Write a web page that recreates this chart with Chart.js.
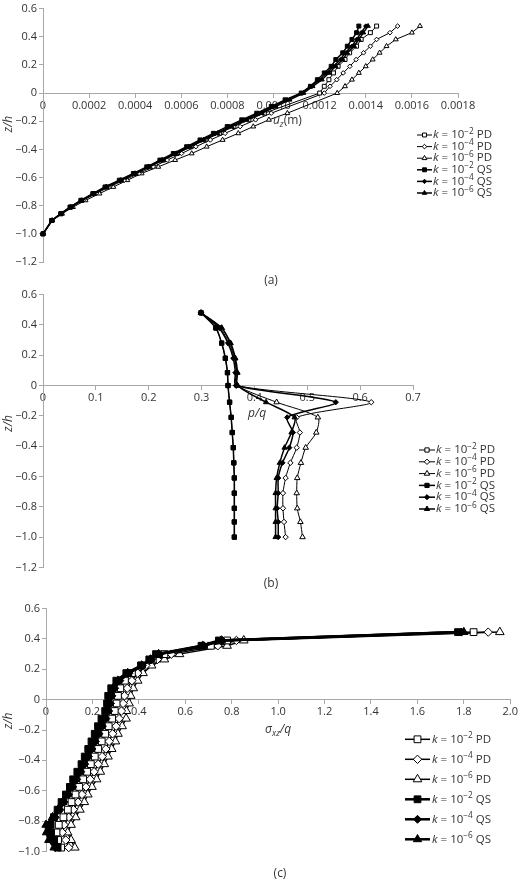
<!DOCTYPE html>
<html>
<head>
<meta charset="utf-8">
<script src="https://cdn.jsdelivr.net/npm/chart.js@4.4.1/dist/chart.umd.min.js"></script>
<style>
  body { margin: 0; background: #fff; }
  #wrap { position: relative; width: 520px; height: 880px; }
  canvas { position: absolute; left: 0; }
  .cap { position: absolute; font: 12px "Open Sans", sans-serif; color: #333; transform: translateX(-50%); }
</style>
</head>
<body>
<div id="wrap">
  <canvas id="ca" width="520" height="276" style="top:0"></canvas>
  <div class="cap" style="left:271px;top:271px">(a)</div>
  <canvas id="cb" width="520" height="290" style="top:286px"></canvas>
  <div class="cap" style="left:271px;top:574px">(b)</div>
  <canvas id="cc" width="520" height="260" style="top:600px"></canvas>
  <div class="cap" style="left:280px;top:864px">(c)</div>
</div>
<script>
// ---- (a) vertical displacement u_z (m) vs z/h
const zA = [-1.0, -0.905, -0.857, -0.81, -0.762, -0.714, -0.667, -0.619, -0.571, -0.524, -0.476, -0.429, -0.381, -0.333, -0.286, -0.238, -0.19, -0.143, -0.095, -0.048, 0, 0.048, 0.095, 0.143, 0.19, 0.238, 0.286, 0.333, 0.381, 0.429, 0.476];
const zA_PD = [-1.0, -0.905, -0.857, -0.81, -0.762, -0.714, -0.667, -0.619, -0.571, -0.524, -0.476, -0.429, -0.381, -0.333, -0.286, -0.238, -0.19, -0.143, 0, 0.048, 0.095, 0.143, 0.19, 0.238, 0.286, 0.333, 0.381, 0.429, 0.476];
const uzPD2 = [0, 0.000038, 0.000078, 0.00012, 0.000168, 0.000222, 0.000277, 0.00034, 0.000403, 0.000463, 0.000522, 0.000582, 0.000642, 0.000703, 0.000765, 0.000828, 0.000893, 0.00096, 0.0012, 0.00122, 0.00124, 0.00126, 0.00128, 0.00131, 0.00133, 0.00136, 0.00138, 0.00142, 0.001447];
const uzPD4 = [0, 0.000039, 0.00008, 0.000124, 0.000174, 0.00023, 0.000287, 0.000352, 0.000416, 0.000478, 0.000539, 0.000601, 0.000663, 0.000726, 0.00079, 0.000855, 0.000922, 0.00099, 0.00122, 0.001245, 0.001274, 0.001302, 0.001331, 0.001358, 0.00139, 0.00142, 0.001447, 0.001505, 0.001538];
const uzPD6 = [0, 0.00004, 0.000083, 0.00013, 0.000185, 0.000245, 0.000305, 0.000366, 0.000428, 0.0005, 0.000573, 0.000645, 0.00071, 0.000779, 0.000847, 0.000912, 0.00098, 0.00106, 0.001276, 0.00131, 0.00134, 0.00137, 0.0014, 0.00143, 0.00146, 0.00149, 0.00153, 0.0016, 0.001635];
const uzQS2 = [0, 0.000038, 0.000077, 0.000117, 0.000164, 0.000216, 0.000269, 0.000331, 0.000392, 0.00045, 0.000507, 0.000565, 0.000623, 0.000681, 0.000739, 0.000799, 0.000862, 0.000927, 0.00099, 0.00105, 0.00112, 0.00116, 0.00119, 0.00122, 0.00125, 0.00127, 0.0013, 0.00132, 0.00134, 0.00136, 0.00137];
const uzQS4 = [0, 0.000038, 0.000078, 0.000118, 0.000166, 0.000218, 0.000272, 0.000334, 0.000396, 0.000455, 0.000513, 0.000571, 0.00063, 0.000689, 0.000748, 0.000809, 0.000873, 0.000938, 0.001, 0.00106, 0.00112, 0.00116, 0.0012, 0.00123, 0.00126, 0.00129, 0.00131, 0.00134, 0.00136, 0.00138, 0.0014];
const uzQS6 = [0, 0.000039, 0.000079, 0.00012, 0.000168, 0.000221, 0.000276, 0.000338, 0.000401, 0.00046, 0.000519, 0.000578, 0.000638, 0.000697, 0.000757, 0.000819, 0.000884, 0.00095, 0.00101, 0.00107, 0.00113, 0.00117, 0.00121, 0.00124, 0.00127, 0.0013, 0.00132, 0.00135, 0.00137, 0.00139, 0.00141];

// ---- (b) pore pressure p/q vs z/h
const zB = [0.48, 0.38, 0.28, 0.18, 0.085, 0, -0.11, -0.21, -0.31, -0.41, -0.51, -0.61, -0.71, -0.81, -0.9, -1.0];
const pPD2 = [0.299, 0.327, 0.338, 0.345, 0.349, 0.35, 0.353, 0.356, 0.358, 0.36, 0.361, 0.362, 0.362, 0.362, 0.362, 0.362];
const pPD4 = [0.299, 0.335, 0.352, 0.362, 0.366, 0.366, 0.621, 0.48, 0.486, 0.48, 0.468, 0.459, 0.454, 0.454, 0.456, 0.459];
const pPD6 = [0.299, 0.338, 0.354, 0.363, 0.367, 0.368, 0.442, 0.52, 0.517, 0.497, 0.488, 0.481, 0.48, 0.481, 0.487, 0.491];
const pQS2 = [0.299, 0.327, 0.338, 0.345, 0.349, 0.35, 0.353, 0.356, 0.358, 0.36, 0.361, 0.362, 0.362, 0.362, 0.362, 0.362];
const pQS4 = [0.299, 0.333, 0.35, 0.36, 0.364, 0.365, 0.554, 0.462, 0.473, 0.466, 0.453, 0.445, 0.445, 0.443, 0.445, 0.445];
const pQS6 = [0.299, 0.338, 0.355, 0.364, 0.368, 0.368, 0.422, 0.476, 0.47, 0.457, 0.448, 0.442, 0.44, 0.44, 0.44, 0.44];

// ---- (c) shear stress sigma_xz/q vs z/h
const zC = [-0.975, -0.925, -0.875, -0.825, -0.775, -0.725, -0.675, -0.625, -0.575, -0.525, -0.475, -0.425, -0.375, -0.325, -0.275, -0.225, -0.175, -0.125, -0.075, -0.025, 0.025, 0.075, 0.125, 0.175, 0.225, 0.265, 0.3, 0.355, 0.39, 0.445];
const sPD2 = [0.065, 0.052, 0.045, 0.055, 0.075, 0.094, 0.11, 0.127, 0.143, 0.16, 0.177, 0.193, 0.21, 0.225, 0.24, 0.255, 0.27, 0.285, 0.296, 0.304, 0.31, 0.32, 0.34, 0.37, 0.41, 0.46, 0.51, 0.71, 0.78, 1.842];
const sPD4 = [0.098, 0.085, 0.07, 0.078, 0.098, 0.118, 0.138, 0.155, 0.172, 0.19, 0.207, 0.225, 0.242, 0.258, 0.272, 0.287, 0.302, 0.315, 0.325, 0.332, 0.338, 0.35, 0.37, 0.395, 0.43, 0.48, 0.54, 0.74, 0.82, 1.905];
const sPD6 = [0.124, 0.108, 0.093, 0.108, 0.128, 0.146, 0.165, 0.18, 0.198, 0.218, 0.234, 0.251, 0.267, 0.283, 0.299, 0.31, 0.328, 0.345, 0.346, 0.358, 0.365, 0.376, 0.395, 0.418, 0.455, 0.51, 0.575, 0.78, 0.852, 1.955];
const sQS2 = [0.05, 0.035, 0.022, 0.02, 0.034, 0.05, 0.067, 0.086, 0.103, 0.117, 0.135, 0.153, 0.167, 0.182, 0.196, 0.21, 0.224, 0.239, 0.255, 0.263, 0.268, 0.281, 0.303, 0.346, 0.41, 0.445, 0.474, 0.67, 0.745, 1.775];
const sQS4 = [0.04, 0.022, 0.01, 0.012, 0.04, 0.06, 0.078, 0.097, 0.115, 0.132, 0.15, 0.167, 0.183, 0.198, 0.213, 0.228, 0.243, 0.258, 0.27, 0.278, 0.284, 0.296, 0.318, 0.358, 0.415, 0.455, 0.49, 0.68, 0.76, 1.79];
const sQS6 = [0.035, 0.012, 0.002, 0.0, 0.028, 0.052, 0.072, 0.092, 0.11, 0.127, 0.145, 0.162, 0.178, 0.193, 0.208, 0.222, 0.237, 0.252, 0.265, 0.273, 0.279, 0.29, 0.31, 0.352, 0.412, 0.45, 0.485, 0.675, 0.755, 1.8];

const labels = ['k = 10−2 PD', 'k = 10−4 PD', 'k = 10−6 PD', 'k = 10−2 QS', 'k = 10−4 QS', 'k = 10−6 QS'];

const FONT = '"Open Sans", "Noto Sans", sans-serif';
const TXT = '#333';
const AXIS = '#a8a8a8';

function partFont(p, size) {
  const s = (p.sup || p.sub) ? size * 0.72 : size;
  return (p.it ? 'italic ' : '') + s + 'px ' + FONT;
}
function drawRich(ctx, parts, x, y, size, align) {
  let w = 0;
  parts.forEach(p => { ctx.font = partFont(p, size); p.w = ctx.measureText(p.t).width; w += p.w; });
  let cx = align === 'center' ? x - w / 2 : x;
  ctx.textBaseline = 'middle';
  ctx.textAlign = 'left';
  parts.forEach(p => {
    ctx.font = partFont(p, size);
    const dy = p.sup ? -size * 0.33 : p.sub ? size * 0.3 : 0;
    ctx.fillText(p.t, cx, y + dy);
    cx += p.w;
  });
}
function labelParts(label) {
  const m = label.match(/^k = 10(\S+) (\w+)$/);
  return [{ t: 'k', it: true }, { t: ' = 10' }, { t: m[1], sup: true }, { t: ' ' + m[2] }];
}

function series(xs, zs, i, style, r, bw) {
  const filled = i >= 3;
  return {
    label: labels[i],
    data: xs.map((v, j) => ({ x: v, y: zs[j] })),
    showLine: true,
    borderColor: '#000',
    borderWidth: bw,
    pointStyle: style,
    pointRadius: r,
    pointHoverRadius: r,
    pointBorderWidth: 1,
    pointBackgroundColor: filled ? '#000' : '#fff',
    pointBorderColor: '#000',
    order: filled ? 1 : 2,
    clip: false
  };
}

const fmt = d => v => Math.abs(v) < 1e-9 ? '0' : v.toFixed(d).replace('-', '−');

function extras(cfg) {
  return {
    id: 'extras',
    afterDraw(chart) {
      const ctx = chart.ctx, xs = chart.scales.x, ys = chart.scales.y;
      ctx.save();
      ctx.fillStyle = TXT;
      drawRich(ctx, cfg.xTitle, xs.getPixelForValue(cfg.xTitleAt), ys.getPixelForValue(0) + cfg.xTitleDy, 12, 'center');
      ctx.save();
      ctx.translate(9, ys.getPixelForValue(cfg.yTitleAt));
      ctx.rotate(-Math.PI / 2);
      drawRich(ctx, [{ t: 'z/h', it: true }], 0, 0, 12, 'center');
      ctx.restore();
      const L = cfg.legend;
      chart.data.datasets.forEach((ds, i) => {
        const y = L.y + i * L.dy;
        ctx.strokeStyle = '#000';
        ctx.lineWidth = ds.borderWidth;
        ctx.beginPath();
        ctx.moveTo(L.x, y);
        ctx.lineTo(L.x + L.len, y);
        ctx.stroke();
        ctx.fillStyle = ds.pointBackgroundColor;
        ctx.lineWidth = 1;
        Chart.helpers.drawPoint(ctx, { pointStyle: ds.pointStyle, radius: ds.pointRadius, borderWidth: 1, rotation: 0 }, L.x + L.len / 2, y);
        ctx.fillStyle = TXT;
        drawRich(ctx, labelParts(ds.label), L.tx, y, L.size, 'left');
      });
      ctx.restore();
    }
  };
}

function makeChart(id, o) {
  const tickFont = { family: FONT, size: 11 };
  return new Chart(document.getElementById(id), {
    type: 'scatter',
    data: { datasets: o.datasets },
    options: {
      responsive: false,
      animation: false,
      events: [],
      layout: { padding: o.padding },
      elements: { line: { tension: o.tension || 0 } },
      plugins: { legend: { display: false }, tooltip: { enabled: false } },
      scales: {
        x: {
          type: 'linear',
          position: { y: 0 },
          min: 0, max: o.xMax,
          ticks: { stepSize: o.xStep, callback: fmt(o.xDec), font: tickFont, color: TXT, padding: 2, autoSkip: false, maxRotation: 0 },
          grid: { drawOnChartArea: false, tickLength: 4, color: AXIS },
          border: { color: AXIS }
        },
        y: {
          type: 'linear',
          min: o.yMin, max: 0.6,
          ticks: { stepSize: 0.2, callback: fmt(1), font: tickFont, color: TXT, padding: 2 },
          grid: { drawOnChartArea: false, tickLength: 4, color: AXIS },
          border: { color: AXIS },
          afterFit: s => { s.width = o.yWidth; }
        }
      }
    },
    plugins: [extras(o)]
  });
}

makeChart('ca', {
  datasets: [
    series(uzPD2, zA_PD, 0, 'rect', 2.8, 1),
    series(uzPD4, zA_PD, 1, 'rectRot', 2.3, 1),
    series(uzPD6, zA_PD, 2, 'triangle', 2.8, 1),
    series(uzQS2, zA, 3, 'rect', 2.8, 1.5),
    series(uzQS4, zA, 4, 'rectRot', 2.2, 1.5),
    series(uzQS6, zA, 5, 'triangle', 2.6, 1.5)
  ],
  padding: { left: 0, top: 7, right: 62, bottom: 14 },
  xMax: 0.0018, xStep: 0.0002, xDec: 4, yMin: -1.2, yWidth: 43,
  xTitle: [{ t: 'u', it: true }, { t: 'z', it: true, sub: true }, { t: '(m)' }],
  xTitleAt: 0.00106, xTitleDy: 28, yTitleAt: -0.22,
  legend: { x: 417, len: 15, tx: 433, y: 135, dy: 11.6, size: 11.5 }
});

makeChart('cb', {
  datasets: [
    series(pPD2, zB, 0, 'rect', 3, 1),
    series(pPD4, zB, 1, 'rectRot', 2.7, 1),
    series(pPD6, zB, 2, 'triangle', 3.2, 1),
    series(pQS2, zB, 3, 'rect', 3, 1.5),
    series(pQS4, zB, 4, 'rectRot', 2.6, 1.5),
    series(pQS6, zB, 5, 'triangle', 3, 1.5)
  ],
  tension: 0.25,
  padding: { left: 0, top: 7, right: 107, bottom: 7 },
  xMax: 0.7, xStep: 0.1, xDec: 1, yMin: -1.2, yWidth: 43,
  xTitle: [{ t: 'p/q', it: true }],
  xTitleAt: 0.405, xTitleDy: 28, yTitleAt: -0.25,
  legend: { x: 419, len: 16, tx: 436, y: 164, dy: 11.8, size: 11.5 }
});

makeChart('cc', {
  datasets: [
    series(sPD2, zC, 0, 'rect', 4.8, 1.5),
    series(sPD4, zC, 1, 'rectRot', 4.2, 1.5),
    series(sPD6, zC, 2, 'triangle', 5, 1.5),
    series(sQS2, zC, 3, 'rect', 4.8, 2.5),
    series(sQS4, zC, 4, 'rectRot', 4, 2.5),
    series(sQS6, zC, 5, 'triangle', 4.8, 2.5)
  ],
  padding: { left: 0, top: 7, right: 7, bottom: 8 },
  xMax: 2.0, xStep: 0.2, xDec: 1, yMin: -1.0, yWidth: 46,
  xTitle: [{ t: 'σ', it: true }, { t: 'xz', it: true, sub: true }, { t: '/q', it: true }],
  xTitleAt: 1.0, xTitleDy: 30, yTitleAt: -0.14,
  legend: { x: 405, len: 25, tx: 432, y: 139.3, dy: 20, size: 11.5 }
});
</script>
</body>
</html>
